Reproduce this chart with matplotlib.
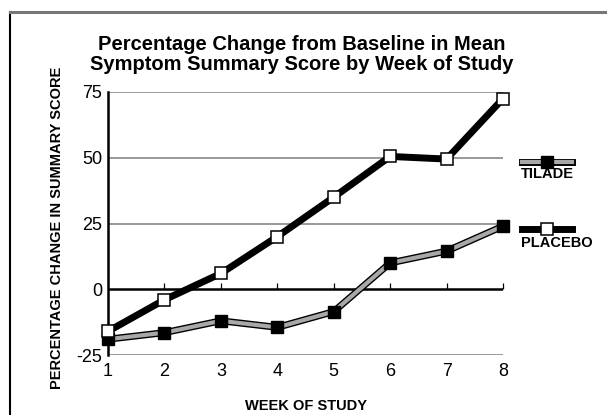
import matplotlib.pyplot as plt

plt.rcParams['axes.unicode_minus'] = False
plt.rcParams['font.family'] = 'Liberation Sans'

weeks = [1, 2, 3, 4, 5, 6, 7, 8]
tilade = [-19, -16.5, -12, -14.5, -8.5, 10, 14.5, 24]
placebo = [-16, -4, 6, 20, 35, 50.5, 49.5, 72.5]
yticks = [-25, 0, 25, 50, 75]

fig = plt.figure(figsize=(6.07, 4.15), dpi=100)

# page frame (left edge black, top edge grey)
top = 1 - 12/415
left = 9.5/607
fig.add_artist(plt.Line2D([left, left], [0, top], color='black', lw=1.5, transform=fig.transFigure))
fig.add_artist(plt.Line2D([left, 1], [top, top], color='#777777', lw=2.2, transform=fig.transFigure))

ax = fig.add_axes([108/607, 1 - 355/415, 395/607, 263/415])
ax.set_xlim(1, 8)
ax.set_ylim(-25, 75)

for y in [75, 50, 25, -25]:
    ax.axhline(y, color='#888888', lw=1.2, zorder=1)
ax.axhline(0, color='black', lw=1.8, zorder=1)
ax.vlines(weeks[1:], 0, 2.2, color='black', lw=0.9, zorder=1, clip_on=False)

# tilade: grey line with black outline
ax.plot(weeks, tilade, color='black', lw=5, zorder=2, clip_on=False)
ax.plot(weeks, tilade, color='#a8a8a8', lw=3, zorder=3, clip_on=False)
ax.plot(weeks, tilade, ls='none', marker='s', ms=8.5, mfc='black', mec='black', zorder=4, clip_on=False)

# placebo: thick black line, white markers
ax.plot(weeks, placebo, color='black', lw=5, zorder=5, clip_on=False)
ax.plot(weeks, placebo, ls='none', marker='s', ms=8, mfc='white', mec='black', mew=1.1,
        zorder=6, clip_on=False)

for s in ['top', 'right', 'bottom']:
    ax.spines[s].set_visible(False)
ax.spines['left'].set_linewidth(1.8)
ax.set_yticks(yticks)
ax.set_xticks(weeks)
ax.tick_params(length=0, labelsize=13, pad=6)
ax.tick_params(axis='y', pad=4)

fig.text(0.497, 1 - 44/415, 'Percentage Change from Baseline in Mean', ha='center', va='center',
         fontsize=14.5, fontweight='bold')
fig.text(0.497, 1 - 65/415, 'Symptom Summary Score by Week of Study', ha='center', va='center',
         fontsize=14.5, fontweight='bold')
fig.text(57/607, 1 - 228/415, 'PERCENTAGE CHANGE IN SUMMARY SCORE', rotation=90, ha='center',
         va='center', fontsize=10.5, fontweight='bold')
fig.text(306/607, 1 - 406/415, 'WEEK OF STUDY', ha='center', va='center', fontsize=10.5,
         fontweight='bold')

# legend drawn by hand
lx = [522/607, 572/607]
ly1 = 1 - 162/415
ly2 = 1 - 229/415
fig.add_artist(plt.Line2D(lx, [ly1, ly1], color='black', lw=5, transform=fig.transFigure))
fig.add_artist(plt.Line2D(lx, [ly1, ly1], color='#a8a8a8', lw=3, transform=fig.transFigure))
fig.add_artist(plt.Line2D([sum(lx)/2], [ly1], marker='s', ms=8.5, color='black', transform=fig.transFigure))
fig.add_artist(plt.Line2D(lx, [ly2, ly2], color='black', lw=5, transform=fig.transFigure))
fig.add_artist(plt.Line2D([sum(lx)/2], [ly2], marker='s', ms=8, mfc='white', mec='black', mew=1.1,
                          transform=fig.transFigure))
fig.text(521/607, 1 - 174/415, 'TILADE', ha='left', va='center', fontsize=10.5, fontweight='bold')
fig.text(521/607, 1 - 243/415, 'PLACEBO', ha='left', va='center', fontsize=10.5, fontweight='bold')

fig.savefig('out.png', dpi=100)
